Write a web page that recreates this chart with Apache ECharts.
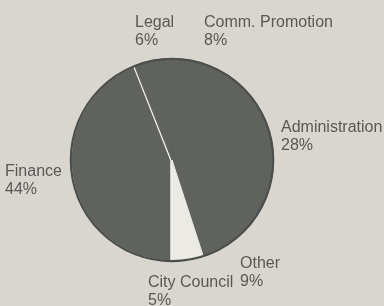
<!DOCTYPE html>
<html>
<head>
<meta charset="utf-8">
<script src="https://cdn.jsdelivr.net/npm/echarts@6/dist/echarts.min.js"></script>
<style>
  html, body { margin: 0; padding: 0; background: #d8d6cf; }
  #chart { width: 384px; height: 306px; }
</style>
</head>
<body>
<div id="chart"></div>
<script>
/* --------------------------------------------------  Data  -------------------------------------------------- */
const categories = ['Finance', 'Legal', 'Comm. Promotion', 'Administration', 'Other', 'City Council'];
const shares = [44, 6, 8, 28, 9, 5];

/* --------------------------------------------------  Style  -------------------------------------------------- */
const paper = '#d8d6cf';
const sliceGray = '#5f625d';
const paleSlice = '#ebeae4';
const textColor = '#585856';
// top-left of each label block (px), same order as categories
const labelAnchors = [
  [5, 163],
  [135, 14],
  [204, 14],
  [281, 119],
  [240, 255],
  [148, 274],
];

const pieData = categories.map((name, i) => {
  const item = {
    name,
    value: shares[i],
    itemStyle: { color: sliceGray, borderColor: sliceGray, borderWidth: 1 },
  };
  if (name === 'Finance') {
    item.itemStyle.borderColor = '#f2f1ec';
    item.itemStyle.borderWidth = 3.5;
  }
  if (name === 'City Council') {
    item.itemStyle.color = paleSlice;
    item.itemStyle.borderColor = paleSlice;
  }
  return item;
});

// plain ring drawn over the pie edge (no data, only an outline)
function rim(r, color, w) {
  return {
    type: 'pie',
    center: [172, 160],
    radius: [0, r],
    silent: true,
    z: 5,
    data: [{ value: 1, itemStyle: { color: 'transparent', borderColor: color, borderWidth: w } }],
    label: { show: false },
    labelLine: { show: false },
  };
}

/* --------------------------------------------------  Chart  -------------------------------------------------- */
const myChart = echarts.init(document.getElementById('chart'));

myChart.setOption({
  backgroundColor: paper,
  animation: false,
  series: [
    {
      type: 'pie',
      center: [172, 160],
      radius: [0, 102],
      startAngle: 270,
      clockwise: true,
      data: pieData,
      label: {
        show: true,
        position: 'outside',
        formatter: '{b}\n{c}%',
        color: textColor,
        fontFamily: 'Liberation Sans, Arial, sans-serif',
        fontSize: 16,
        lineHeight: 18,
        align: 'left',
        overflow: 'none',
        width: 200,
      },
      labelLine: { show: false },
      labelLayout: (params) => {
        const a = labelAnchors[params.dataIndex];
        return { x: a[0], y: a[1], align: 'left', verticalAlign: 'top', hideOverlap: false };
      },
      emphasis: { disabled: true },
    },
    rim(103.6, paper, 3.2),
    rim(101.2, '#4c4f4b', 2.2),
  ],
});
</script>
</body>
</html>
